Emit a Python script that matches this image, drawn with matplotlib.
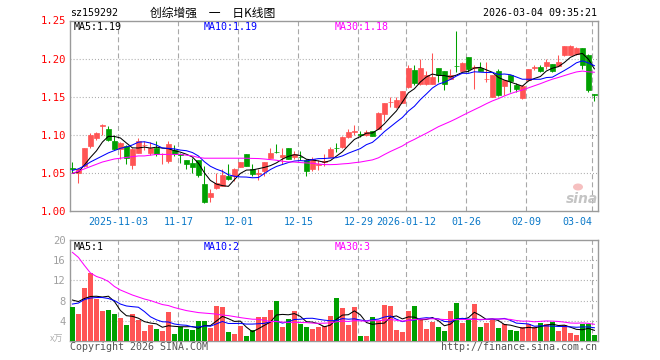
import numpy as np
import matplotlib
matplotlib.use('Agg')
import matplotlib.pyplot as plt
from matplotlib.patches import Ellipse

# ---------------- data ----------------
opens = [1.056, 1.050, 1.059, 1.085, 1.096, 1.111, 1.108, 1.091, 1.081, 1.085,
         1.060, 1.076, 1.086, 1.0755, 1.082, 1.074, 1.065, 1.080, 1.075, 1.067,
         1.063, 1.066, 1.035, 1.0175, 1.030, 1.033, 1.046, 1.045, 1.058, 1.075,
         1.055, 1.048, 1.0526, 1.069, 1.0775, 1.071, 1.082, 1.070, 1.071, 1.066,
         1.055, 1.0605, 1.064, 1.071, 1.0825, 1.084, 1.0965, 1.104, 1.1005, 1.099,
         1.105, 1.108, 1.127, 1.1425, 1.136, 1.142, 1.162, 1.185, 1.167, 1.167,
         1.167, 1.187, 1.183, 1.173, 1.1905, 1.183, 1.202, 1.188, 1.188, 1.1725,
         1.150, 1.183, 1.1645, 1.179, 1.165, 1.148, 1.172, 1.1875, 1.189, 1.1908,
         1.193, 1.190, 1.204, 1.205, 1.206, 1.2136, 1.204, 1.153]
highs = [1.064, 1.056, 1.083, 1.102, 1.104, 1.114, 1.111, 1.100, 1.090, 1.086,
         1.082, 1.095, 1.091, 1.090, 1.091, 1.076, 1.091, 1.086, 1.076, 1.067,
         1.069, 1.066, 1.059, 1.029, 1.050, 1.055, 1.061, 1.056, 1.064, 1.075,
         1.061, 1.055, 1.0636, 1.082, 1.0877, 1.082, 1.083, 1.0785, 1.079, 1.068,
         1.070, 1.067, 1.075, 1.084, 1.089, 1.0985, 1.1075, 1.112, 1.105, 1.1065,
         1.105, 1.1295, 1.141, 1.149, 1.150, 1.157, 1.191, 1.191, 1.200, 1.184,
         1.207, 1.187, 1.183, 1.186, 1.236, 1.196, 1.202, 1.192, 1.195, 1.195,
         1.178, 1.186, 1.172, 1.179, 1.168, 1.165, 1.186, 1.191, 1.191, 1.1995,
         1.193, 1.205, 1.217, 1.218, 1.215, 1.2136, 1.206, 1.154]
lows = [1.050, 1.037, 1.058, 1.082, 1.093, 1.100, 1.092, 1.080, 1.068, 1.061,
        1.055, 1.076, 1.080, 1.073, 1.072, 1.062, 1.063, 1.072, 1.063, 1.055,
        1.050, 1.044, 1.010, 1.011, 1.029, 1.033, 1.041, 1.039, 1.057, 1.059,
        1.046, 1.040, 1.045, 1.069, 1.076, 1.0615, 1.068, 1.068, 1.067, 1.046,
        1.052, 1.0535, 1.059, 1.071, 1.0765, 1.083, 1.0955, 1.099, 1.0975, 1.0985,
        1.098, 1.107, 1.1175, 1.136, 1.135, 1.142, 1.161, 1.165, 1.165, 1.165,
        1.166, 1.169, 1.159, 1.173, 1.182, 1.183, 1.182, 1.160, 1.183, 1.169,
        1.150, 1.151, 1.1526, 1.156, 1.156, 1.147, 1.171, 1.1845, 1.182, 1.186,
        1.182, 1.190, 1.203, 1.204, 1.205, 1.186, 1.156, 1.144]
closes = [1.055, 1.055, 1.082, 1.099, 1.102, 1.113, 1.093, 1.081, 1.089, 1.069,
          1.081, 1.092, 1.087, 1.0825, 1.075, 1.075, 1.088, 1.074, 1.073, 1.061,
          1.057, 1.047, 1.011, 1.023, 1.037, 1.047, 1.042, 1.055, 1.064, 1.059,
          1.048, 1.050, 1.0636, 1.0755, 1.077, 1.073, 1.068, 1.0746, 1.070, 1.0526,
          1.068, 1.062, 1.0655, 1.081, 1.082, 1.0965, 1.104, 1.105, 1.100, 1.104,
          1.098, 1.128, 1.141, 1.1435, 1.145, 1.157, 1.188, 1.168, 1.188, 1.178,
          1.176, 1.179, 1.167, 1.179, 1.190, 1.194, 1.186, 1.189, 1.183, 1.1735,
          1.178, 1.152, 1.172, 1.170, 1.160, 1.1645, 1.186, 1.1885, 1.183, 1.196,
          1.183, 1.196, 1.216, 1.217, 1.2136, 1.191, 1.158, 1.1525]
volumes = [6.7, 5.3, 10.5, 13.5, 8.3, 5.9, 6.1, 5.3, 4.5, 3.1,
           5.3, 4.2, 1.9, 3.1, 2.3, 1.9, 5.7, 1.3, 2.7, 2.3,
           2.1, 4.0, 4.0, 2.6, 6.9, 6.7, 1.7, 1.3, 2.9, 0.9,
           2.1, 4.7, 4.7, 6.1, 8.0, 2.7, 4.3, 5.9, 3.3, 2.7,
           2.3, 2.7, 2.9, 4.9, 8.5, 6.5, 3.1, 6.7, 0.9, 0.9,
           4.7, 3.9, 7.1, 6.9, 2.1, 1.7, 5.9, 6.9, 4.3, 2.3,
           3.7, 2.7, 1.9, 5.9, 7.5, 3.5, 4.1, 7.3, 2.7, 3.5,
           4.1, 2.5, 3.3, 2.1, 1.9, 2.7, 3.3, 2.7, 3.5, 3.3,
           3.7, 1.9, 3.1, 1.5, 1.1, 3.3, 3.3, 1.1]

# moving-average values for the first days (history before the window)
ma5_head = [1.049, 1.051, 1.060, 1.070]
ma10_head = [1.053, 1.055, 1.059, 1.064, 1.068, 1.072, 1.076, 1.079, 1.082]
ma30_head = [1.049, 1.052, 1.055, 1.058, 1.061, 1.064, 1.066, 1.068, 1.069, 1.070,
             1.071, 1.072, 1.072, 1.073, 1.074, 1.074, 1.074, 1.074, 1.074, 1.073,
             1.072, 1.070, 1.069, 1.069, 1.069, 1.069, 1.069, 1.069, 1.069]
vma5_head = [8.1, 7.8, 8.4, 8.8]
vma10_head = [7.3, 7.5, 8.2, 8.5, 8.6, 8.6, 8.4, 8.0, 7.3]
vma30_head = [17.6, 16.6, 15.0, 13.5, 12.8, 12.4, 11.8, 10.8, 10.1, 9.6,
              9.1, 8.7, 8.3, 8.0, 7.6, 7.2, 7.0, 6.6, 6.3, 6.0,
              5.8, 5.6, 5.5, 5.4, 5.3, 5.1, 5.0, 4.8, 4.6]

date_labels = ['2025-11-03', '11-17', '12-01', '12-15', '12-29', '2026-01-12', '01-26', '02-09', '03-04']
date_index = [8, 18, 28, 38, 48, 56, 66, 76, 87]
price_ticks = [1.00, 1.05, 1.10, 1.15, 1.20, 1.25]
price_tick_labels = ['1.00', '1.05', '1.10', '1.15', '1.20', '1.25']
vol_ticks = [4, 8, 12, 16, 20]
vol_tick_labels = ['4', '8', '12', '16', '20']
price_ma_labels = ['MA5:1.19', 'MA10:1.19', 'MA30:1.18']
vol_ma_labels = ['MA5:1', 'MA10:2', 'MA30:3']
code = 'sz159292'
title = '创综增强　一　日K线图'
stamp = '2026-03-04 09:35:21'

# ---------------- helpers ----------------
def moving_avg(vals, n, head):
    vals = np.asarray(vals, dtype=float)
    rest = [vals[i - n + 1:i + 1].mean() for i in range(n - 1, len(vals))]
    return np.array(list(head) + rest)

RED = '#ff5454'
GREEN = '#00a000'
GRIDC = '#a8a8a8'
FRAME = '#9a9a9a'
MONO = 'DejaVu Sans Mono'
CJK = ['Noto Sans CJK SC', 'DejaVu Sans']
FS = 7.2

plt.rcParams['lines.scale_dashes'] = False

W, H = 660, 360
fig = plt.figure(figsize=(W / 100, H / 100), dpi=100)
fig.patch.set_facecolor('white')

def fx(px):
    return px / W

def fy(py):
    return 1 - py / H

ax = fig.add_axes([fx(70), fy(210.7), (597.5 - 70) / W, (210.7 - 20.5) / H])
axv = fig.add_axes([fx(70), fy(340.7), (597.5 - 70) / W, (340.7 - 240.3) / H])

n = len(closes)
x = np.arange(n)
o = np.array(opens); c = np.array(closes); h = np.array(highs); l = np.array(lows)
up = c > o
colors = [RED if u else GREEN for u in up]

# candles
ax.vlines(x, l, h, colors=colors, linewidth=0.75, zorder=3)
body_bottom = np.minimum(o, c)
body_h = np.abs(c - o)
ax.bar(x, body_h, bottom=body_bottom, width=0.75, color=colors,
       edgecolor=colors, linewidth=0.5, zorder=4)

# MA lines
ax.plot(x, moving_avg(closes, 5, ma5_head), color='black', lw=0.75, zorder=5)
ax.plot(x, moving_avg(closes, 10, ma10_head), color='#0000ff', lw=0.75, zorder=5)
ax.plot(x, moving_avg(closes, 30, ma30_head), color='#ff00ff', lw=0.75, zorder=5)

# volume
axv.bar(x, volumes, width=0.83, color=colors, linewidth=0, zorder=3)
axv.plot(x, moving_avg(volumes, 5, vma5_head), color='black', lw=0.75, zorder=5)
axv.plot(x, moving_avg(volumes, 10, vma10_head), color='#0000ff', lw=0.75, zorder=5)
axv.plot(x, moving_avg(volumes, 30, vma30_head), color='#ff00ff', lw=0.75, zorder=5)

grid_x = [d - 0.33 for d in date_index]
for a in (ax, axv):
    a.set_xlim(-0.4, 87.52)
    for s in a.spines.values():
        s.set_color(FRAME)
        s.set_linewidth(1.0)
    for gx in grid_x:
        a.axvline(gx, color=GRIDC, lw=0.8, dashes=(3.6, 2.2), zorder=1)
    a.tick_params(length=0)

ax.set_ylim(1.00, 1.25)
for t in price_ticks[1:-1]:
    ax.axhline(t, color=GRIDC, lw=0.8, dashes=(0.7, 1.5), zorder=1)
ax.set_yticks(price_ticks)
ax.set_yticklabels(price_tick_labels, color='red', family=MONO, fontsize=7.6)
ax.tick_params(axis='y', pad=3.0)
ax.set_xticks(grid_x)
ax.set_xticklabels(date_labels, color='#0a78c8', family=MONO, fontsize=FS)
ax.tick_params(axis='x', pad=4.5)
lbls = ax.get_xticklabels()
lbls[-1].set_ha('right')

axv.set_ylim(0, 20)
for t in vol_ticks[:-1]:
    axv.axhline(t, color=GRIDC, lw=0.8, dashes=(0.7, 1.5), zorder=1)
axv.set_yticks(vol_ticks)
axv.set_yticklabels(vol_tick_labels, color='#a0a0a0', family=MONO, fontsize=7.6)
axv.tick_params(axis='y', pad=3.0)
axv.set_xticks([])

# text
fig.text(fx(70), fy(13.5), code, family=MONO, fontsize=FS, va='center', ha='left', color='black')
fig.text(fx(213), fy(13.5), title, family=CJK, fontsize=8.5, va='center', ha='center', color='black')
fig.text(fx(597), fy(13.5), stamp, family=MONO, fontsize=FS, va='center', ha='right', color='black')

ma_x = [74, 204, 335]
ma_c = ['black', '#0000ff', '#ff00ff']
for xx, txt, col in zip(ma_x, price_ma_labels, ma_c):
    fig.text(fx(xx), fy(26.5), txt, family=MONO, fontsize=FS, va='center', ha='left', color=col)
for xx, txt, col in zip(ma_x, vol_ma_labels, ma_c):
    fig.text(fx(xx), fy(246.5), txt, family=MONO, fontsize=FS, va='center', ha='left', color=col)

fig.text(fx(63), fy(339), 'x万', family=CJK, fontsize=6.5, va='center', ha='right', color='#b0b0b0')
fig.text(fx(70), fy(347), 'Copyright 2026 SINA.COM', family=MONO, fontsize=FS, va='center', ha='left', color='#555555')
fig.text(fx(597), fy(347), 'http://finance.sina.com.cn', family=MONO, fontsize=FS, va='center', ha='right', color='#555555')

# sina watermark
fig.text(fx(582), fy(199), 'sina', family='DejaVu Sans', fontsize=10, fontweight='bold',
         style='italic', va='center', ha='center', color='#c4c4c4')
fig.patches.append(Ellipse((fx(578), fy(187)), 10 / W, 7 / H, transform=fig.transFigure,
                           facecolor='#f6c0c0', edgecolor='none'))

fig.savefig('out.png', dpi=100)
